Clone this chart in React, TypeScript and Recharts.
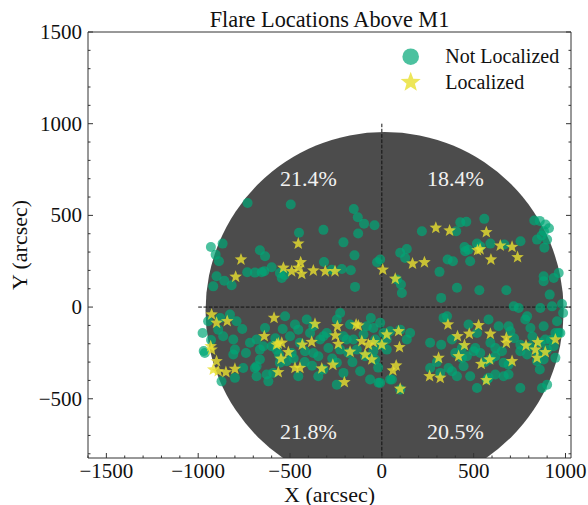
import React from 'react';
import { ScatterChart, Scatter, XAxis, YAxis, ReferenceArea, ReferenceLine } from 'recharts';

// ---------- data ----------
const notLocalized: [number, number][] = [
  // upper-left
  [-731, 568], [-496, 559], [-153, 535], [-131, 490], [-97, 455], [-40, 446], [-451, 405], [-318, 421],
  [-129, 401], [-209, 353], [-867, 346], [-931, 328], [-664, 310], [-636, 277], [-905, 286], [-887, 250],
  [-149, 282], [-26, 244], [-315, 246], [-600, 217], [-733, 190], [-691, 188], [-654, 190], [-555, 186],
  [-545, 159], [-900, 168], [-858, 144], [-818, 119], [-918, 113], [-218, 208], [-169, 201], [-146, 110],
  [-273, 204], [-530, 175], [-640, 195],
  // upper-right
  [830, 472], [891, 450], [883, 413], [845, 368], [900, 368], [885, 324], [558, 481], [460, 465],
  [427, 462], [405, 413], [218, 413], [450, 328], [472, 313], [518, 346], [536, 331], [591, 346],
  [454, 304], [667, 341], [755, 359], [136, 317], [100, 296], [127, 268], [358, 259], [387, 250],
  [481, 250], [314, 192], [963, 186], [936, 159], [881, 168], [881, 141], [104, 123], [109, 77],
  [82, 150], [409, 105], [531, 92], [678, 92], [323, 50], [914, 68], [718, 4], [745, -5],
  [791, -50], [863, -5], [927, 4], [981, 17], [987, -32], [-9, 259], [910, 430], [870, 390], [860, 470],
  // lower-left
  [-946, -77], [-891, -123], [-827, -41], [-791, -77], [-976, -141], [-964, -250], [-970, -240], [-864, -159],
  [-809, -177], [-800, -232], [-809, -259], [-873, -405], [-800, -386], [-755, -332], [-682, -323], [-682, -377],
  [-618, -405], [-636, -114], [-718, -195], [-682, -177], [-664, -232], [-645, -214], [-600, -214], [-573, -232],
  [-500, -159], [-491, -250], [-527, -50], [-473, -95], [-455, -123], [-555, -304], [-518, -295], [-627, -368],
  [-591, -359], [-446, -195], [-418, -241], [-373, -250], [-346, -268], [-391, -141], [-455, -377], [-346, -377],
  [-318, -341], [-318, -159], [-300, -141], [-291, -223], [-245, -68], [-227, -32], [-173, -95], [-209, -159],
  [-191, -177], [-155, -177], [-136, -232], [-182, -250], [-227, -232], [-245, -304], [-209, -359], [-245, -423],
  [-118, -350], [-64, -395], [-9, -413], [-82, -105], [-46, -114], [-9, -86], [9, -141], [-36, -177],
  [-9, -205], [27, -177], [-46, -241], [-91, -268], [-36, -286], [-373, -105], [-336, -177], [-409, -68],
  [-664, -286], [-691, -332], [-930, -180], [-880, -60], [-760, -120], [-740, -250], [-580, -170], [-540, -120],
  [-420, -300], [-380, -320], [-270, -280], [-160, -300], [-100, -150], [-60, -60], [-20, -330], [-560, -260],
  [-480, -280],
  // lower-right
  [336, -59], [355, -50], [472, -95], [581, -68], [518, -141], [636, -105], [690, -105], [700, -132],
  [781, -68], [809, -114], [881, -105], [945, -141], [954, -77], [972, -141], [263, -195], [323, -205],
  [382, -177], [436, -223], [509, -223], [536, -250], [591, -195], [618, -223], [654, -241], [754, -241],
  [791, -259], [754, -205], [809, -214], [863, -195], [890, -177], [900, -232], [881, -286], [845, -295],
  [936, -214], [945, -277], [963, -141], [45, -132], [100, -123], [154, -141], [136, -177], [27, -232],
  [55, -395], [100, -450], [363, -332], [382, -350], [445, -323], [436, -277], [481, -377], [518, -441],
  [581, -386], [618, -368], [663, -377], [690, -368], [754, -441], [872, -441], [900, -423], [463, -268],
  [500, -241], [591, -286], [618, -268], [663, -304], [690, -314], [263, -332], [318, -359], [409, -377],
  [-18, -413], [45, -395], [573, -395], [820, -160], [850, -250], [920, -180], [720, -170], [560, -300],
  [400, -250], [300, -300], [860, -340],
];

const localized: [number, number][] = [
  // upper
  [-455, 346], [-767, 259], [-796, 165], [-536, 214], [-491, 195], [-442, 244], [-455, 214], [-436, 181],
  [-373, 199], [-308, 195], [-255, 195], [5, 204], [294, 432], [369, 417], [569, 408], [521, 310],
  [535, 315], [645, 335], [709, 328], [594, 259], [739, 272], [167, 237], [232, 244], [73, 154],
  // lower
  [-927, -41], [-900, -86], [-842, -77], [-587, -59], [-364, -92], [-242, -105], [-140, -95], [-128, -101],
  [-932, -214], [-927, -232], [-900, -295], [-918, -341], [-891, -350], [-849, -355], [-800, -337], [-640, -159],
  [-573, -205], [-545, -195], [-509, -246], [-549, -282], [-564, -355], [-473, -332], [-446, -332], [-433, -205],
  [-382, -190], [-327, -335], [-267, -315], [-253, -155], [-237, -201], [-173, -244], [-204, -410], [-109, -186],
  [-91, -259], [-55, -286], [-73, -205], [-46, -192], [0, -205], [27, -150], [91, -132], [96, -219],
  [78, -319], [60, -346], [100, -446], [360, -95], [412, -159], [476, -146], [450, -208], [527, -99],
  [591, -146], [678, -168], [678, -195], [785, -210], [849, -192], [836, -232], [890, -246], [845, -277],
  [945, -177], [309, -277], [418, -268], [541, -310], [587, -286], [709, -295], [260, -377], [318, -386],
  [569, -399], [-564, -199],
];

const quadrantLabels = [
  { x: -400, y: 700, label: '21.4%' },
  { x: 400, y: 700, label: '18.4%' },
  { x: -400, y: -680, label: '21.8%' },
  { x: 400, y: -680, label: '20.5%' },
];

// solar disk (centre and radius in arcsec)
const diskCenter = { x: 15, y: -20 };
const diskRadius = 975;

const xMajorTicks = [-1500, -1000, -500, 0, 500, 1000];
const xAllTicks = [-1600, -1500, -1400, -1300, -1200, -1100, -1000, -900, -800, -700, -600, -500, -400, -300, -200, -100, 0, 100, 200, 300, 400, 500, 600, 700, 800, 900, 1000];
const yMajorTicks = [-500, 0, 500, 1000, 1500];
const yAllTicks = [-800, -700, -600, -500, -400, -300, -200, -100, 0, 100, 200, 300, 400, 500, 600, 700, 800, 900, 1000, 1100, 1200, 1300, 1400, 1500];

const xDomain: [number, number] = [-1600, 1030];
const yDomain: [number, number] = [-823, 1500];

// ---------- styles ----------
const FONT = "'Liberation Serif', 'Times New Roman', serif";
const GREEN = '#00a676';
const YELLOW = '#e8e030';
const DISK = '#4c4c4c';
const AXIS = '#333';

const fmt = (v: number) => (v < 0 ? '\u2212' + Math.abs(v) : String(v));

const notLocData = notLocalized.map(([x, y]) => ({ x, y }));
const locData = localized.map(([x, y]) => ({ x, y }));

const starPath = (cx: number, cy: number, R: number) => {
  const r = R * 0.42;
  let d = '';
  for (let i = 0; i < 10; i++) {
    const a = -Math.PI / 2 + (i * Math.PI) / 5;
    const rr = i % 2 === 0 ? R : r;
    d += (i === 0 ? 'M' : 'L') + (cx + rr * Math.cos(a)).toFixed(2) + ',' + (cy + rr * Math.sin(a)).toFixed(2);
  }
  return d + 'Z';
};

const DotShape = (p: any) => (
  <circle cx={p.cx} cy={p.cy} r={5} fill={GREEN} fillOpacity={0.7} />
);
const StarShape = (p: any) => (
  <path d={starPath(p.cx, p.cy, 6.6)} fill={YELLOW} fillOpacity={0.8} />
);
const TextShape = (p: any) => (
  <text x={p.cx} y={p.cy + 7} textAnchor="middle" fontFamily={FONT} fontSize={22} fill="#f2f2f2">
    {p.payload.label}
  </text>
);

const BottomTick = (p: any) => {
  const v = p.payload.value;
  const major = xMajorTicks.includes(v);
  return (
    <g>
      <line x1={p.x} x2={p.x} y1={p.y} y2={p.y - (major ? 5 : 2.5)} stroke={AXIS} strokeWidth={1} />
      {major && (
        <text x={p.x} y={p.y + 20} textAnchor="middle" fontFamily={FONT} fontSize={21} fill="#111">
          {fmt(v)}
        </text>
      )}
    </g>
  );
};
const TopTick = (p: any) => {
  const major = xMajorTicks.includes(p.payload.value);
  return <line x1={p.x} x2={p.x} y1={p.y} y2={p.y + (major ? 5 : 2.5)} stroke={AXIS} strokeWidth={1} />;
};
const LeftTick = (p: any) => {
  const v = p.payload.value;
  const major = yMajorTicks.includes(v);
  return (
    <g>
      <line x1={p.x} x2={p.x + (major ? 5 : 2.5)} y1={p.y} y2={p.y} stroke={AXIS} strokeWidth={1} />
      {major && (
        <text x={p.x - 6} y={p.y + 7} textAnchor="end" fontFamily={FONT} fontSize={21} fill="#111">
          {fmt(v)}
        </text>
      )}
    </g>
  );
};
const RightTick = (p: any) => {
  const major = yMajorTicks.includes(p.payload.value);
  return <line x1={p.x} x2={p.x - (major ? 5 : 2.5)} y1={p.y} y2={p.y} stroke={AXIS} strokeWidth={1} />;
};

const TitleLabel = (p: any) => {
  const vb = p.viewBox;
  return (
    <text x={vb.x + vb.width / 2} y={vb.y + vb.height - 4.7} textAnchor="middle" fontFamily={FONT} fontSize={22.3} fill="#111">
      Flare Locations Above M1
    </text>
  );
};
const XLabel = (p: any) => {
  const vb = p.viewBox;
  return (
    <text x={vb.x + vb.width / 2} y={vb.y + 44} textAnchor="middle" fontFamily={FONT} fontSize={22} fill="#111">
      X (arcsec)
    </text>
  );
};
const YLabel = (p: any) => {
  const vb = p.viewBox;
  const cx = 27;
  const cy = vb.y + vb.height / 2;
  return (
    <text x={cx} y={cy} transform={`rotate(-90, ${cx}, ${cy})`} textAnchor="middle" fontFamily={FONT} fontSize={22} fill="#111">
      Y (arcsec)
    </text>
  );
};

const DiskShape = (p: any) => (
  <ellipse
    cx={p.x + p.width / 2}
    cy={p.y + p.height / 2}
    rx={Math.abs(p.width) / 2}
    ry={Math.abs(p.height) / 2}
    fill={DISK}
    clipPath={p.clipPath}
  />
);

export default function App() {
  return (
    <div style={{ position: 'absolute', left: 0, top: 0, width: 588, height: 505, background: '#fff' }}>
      <ScatterChart width={588} height={505} margin={{ top: 0, right: 0, bottom: 0, left: 0 }}>
        <XAxis
          xAxisId="b"
          type="number"
          dataKey="x"
          domain={xDomain}
          allowDataOverflow
          ticks={xAllTicks}
          interval={0}
          tickSize={0}
          tickMargin={0}
          tickLine={false}
          tick={<BottomTick />}
          height={47}
          axisLine={{ stroke: AXIS, strokeWidth: 1 }}
          label={{ content: <XLabel /> }}
        />
        <XAxis
          xAxisId="t"
          orientation="top"
          type="number"
          domain={xDomain}
          allowDataOverflow
          ticks={xAllTicks}
          interval={0}
          tickSize={0}
          tickMargin={0}
          tickLine={false}
          tick={<TopTick />}
          height={32}
          axisLine={{ stroke: AXIS, strokeWidth: 1 }}
          label={{ content: <TitleLabel /> }}
        />
        <YAxis
          yAxisId="l"
          type="number"
          dataKey="y"
          domain={yDomain}
          allowDataOverflow
          ticks={yAllTicks}
          interval={0}
          tickSize={0}
          tickMargin={0}
          tickLine={false}
          tick={<LeftTick />}
          width={88}
          axisLine={{ stroke: AXIS, strokeWidth: 1 }}
          label={{ content: <YLabel /> }}
        />
        <YAxis
          yAxisId="r"
          orientation="right"
          type="number"
          domain={yDomain}
          allowDataOverflow
          ticks={yAllTicks}
          interval={0}
          tickSize={0}
          tickMargin={0}
          tickLine={false}
          tick={<RightTick />}
          width={17}
          axisLine={{ stroke: AXIS, strokeWidth: 1 }}
        />
        <ReferenceArea
          xAxisId="b"
          yAxisId="l"
          x1={diskCenter.x - diskRadius}
          x2={diskCenter.x + diskRadius}
          y1={diskCenter.y - diskRadius}
          y2={diskCenter.y + diskRadius}
          ifOverflow="hidden"
          shape={<DiskShape />}
          zIndex={50}
        />
        <ReferenceLine
          xAxisId="b"
          yAxisId="l"
          segment={[{ x: -1000, y: 0 }, { x: 1100, y: 0 }]}
          ifOverflow="hidden"
          stroke="#111"
          strokeWidth={1}
          strokeDasharray="3.7 1.6"
          zIndex={60}
        />
        <ReferenceLine
          xAxisId="b"
          yAxisId="l"
          segment={[{ x: 0, y: -1100 }, { x: 0, y: 1000 }]}
          ifOverflow="hidden"
          stroke="#111"
          strokeWidth={1}
          strokeDasharray="3.7 1.6"
          zIndex={60}
        />
        <Scatter xAxisId="b" yAxisId="l" data={notLocData} shape={<DotShape />} isAnimationActive={false} />
        <Scatter xAxisId="b" yAxisId="l" data={locData} shape={<StarShape />} isAnimationActive={false} />
        <Scatter xAxisId="b" yAxisId="l" data={quadrantLabels} shape={<TextShape />} isAnimationActive={false} />
      </ScatterChart>
      <svg width={588} height={505} style={{ position: 'absolute', left: 0, top: 0, pointerEvents: 'none' }}>
        <circle cx={410.7} cy={56.7} r={8.3} fill={GREEN} fillOpacity={0.7} />
        <path d={starPath(410.7, 82.3, 10.5)} fill={YELLOW} fillOpacity={0.8} />
        <text x={445.3} y={62.7} fontFamily={FONT} fontSize={20} fill="#111">Not Localized</text>
        <text x={445.3} y={89.3} fontFamily={FONT} fontSize={20} fill="#111">Localized</text>
      </svg>
    </div>
  );
}
